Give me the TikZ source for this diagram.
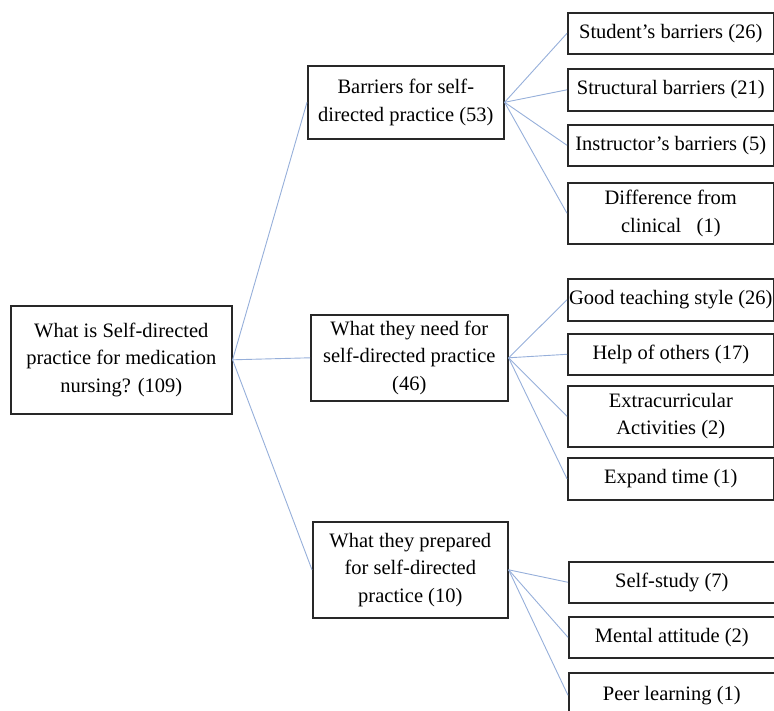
\documentclass[tikz,border=0pt]{standalone}
\usepackage{fontspec}
\setmainfont{Liberation Serif}
\definecolor{linkblue}{RGB}{150,175,218}
\definecolor{boxline}{RGB}{40,40,40}
\begin{document}
\begin{tikzpicture}[x=1pt,y=-1pt,
  box/.style={draw=boxline, line width=1.6pt, anchor=north west, align=center,
    inner sep=0pt, minimum width=206pt, font=\fontsize{20.5}{27.5}\selectfont},
  link/.style={draw=linkblue, line width=0.9pt}]
\useasboundingbox (0,0) rectangle (774,711);
\clip (0,0) rectangle (774,711);
% root
\node[box, minimum width=221pt, minimum height=108pt] (root) at (10,305)
  {What is Self-directed\\practice for medication\\nursing? (109)};
% middle level
\node[box, minimum width=196pt, minimum height=73pt] (bar) at (307,65)
  {Barriers for self-\\directed practice (53)};
\node[box, minimum width=197pt, minimum height=86pt] (need) at (310,314)
  {What they need for\\self-directed practice\\(46)};
\node[box, minimum width=195pt, minimum height=96pt] (prep) at (312,521)
  {What they prepared\\for self-directed\\practice (10)};
% barriers
\node[box, minimum height=41pt] (s1) at (567,12) {Student's barriers (26)};
\node[box, minimum height=42pt] (s2) at (567,68) {Structural barriers (21)};
\node[box, minimum height=41pt] (s3) at (567,124) {Instructor's barriers (5)};
\node[box, minimum height=61pt] (s4) at (567,182) {Difference from\\clinical\ \ \ (1)};
% needs
\node[box, minimum height=42pt] (n1) at (567,278) {Good teaching style (26)};
\node[box, minimum height=41pt] (n2) at (567,333) {Help of others (17)};
\node[box, minimum height=61pt] (n3) at (567,385) {Extracurricular\\Activities (2)};
\node[box, minimum height=42pt] (n4) at (567,457) {Expand time (1)};
% prepared
\node[box, minimum height=41pt] (p1) at (568,561) {Self-study (7)};
\node[box, minimum height=41pt] (p2) at (568,616) {Mental attitude (2)};
\node[box, minimum height=45pt] (p3) at (568,672) {Peer learning (1)};
% connectors
\draw[link] (root.east) -- (bar.west);
\draw[link] (root.east) -- (need.west);
\draw[link] (root.east) -- (prep.west);
\foreach \t in {s1,s2,s3,s4} \draw[link] (bar.east) -- (\t.west);
\foreach \t in {n1,n2,n3,n4} \draw[link] (need.east) -- (\t.west);
\foreach \t in {p1,p2,p3} \draw[link] (prep.east) -- (\t.west);
\end{tikzpicture}
\end{document}
